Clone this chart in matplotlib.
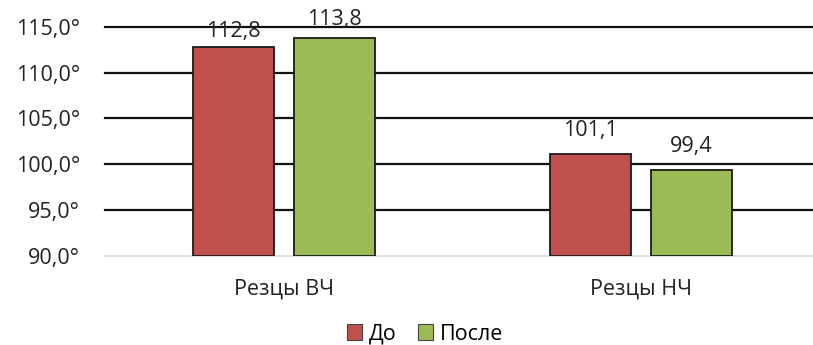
import numpy as np
import matplotlib
matplotlib.use('Agg')
import matplotlib.pyplot as plt
from matplotlib.patches import Patch

plt.rcParams['font.family'] = ['Open Sans', 'DejaVu Sans']

# data
categories = ['Резцы ВЧ', 'Резцы НЧ']
series_names = ['До', 'После']
before = [112.8, 101.1]
after = [113.8, 99.4]
yticks = [90, 95, 100, 105, 110, 115]

red = '#C0504D'
green = '#9BBB59'
fs = 15.5

fig = plt.figure(figsize=(8.13, 3.45), dpi=100)
# axes in pixel terms: left 105, bottom 89, top 26.7
ax = fig.add_axes([105 / 813, 89 / 345, (813 - 105) / 813, (256 - 26.7) / 345])

x = np.arange(len(categories))
w = 0.226
off = 0.141
ax.bar(x - off, np.array(before) - 90, w, bottom=90, color=red,
       edgecolor='#1a1a1a', linewidth=1.3, zorder=3)
ax.bar(x + off, np.array(after) - 90, w, bottom=90, color=green,
       edgecolor='#1a1a1a', linewidth=1.3, zorder=3)

# label gaps above bars (pixels) as they sit in the picture
gaps_before = [5, 13]
gaps_after = [8, 13]
for xi, v, g in zip(x - off, before, gaps_before):
    ax.annotate(f'{v:.1f}'.replace('.', ','), (xi, v), xytext=(0, g * 0.72),
                textcoords='offset points', ha='center', va='bottom',
                fontsize=fs, color='#222222')
for xi, v, g in zip(x + off, after, gaps_after):
    ax.annotate(f'{v:.1f}'.replace('.', ','), (xi, v), xytext=(0, g * 0.72),
                textcoords='offset points', ha='center', va='bottom',
                fontsize=fs, color='#222222', annotation_clip=False)

ax.set_ylim(90, 115)
ax.set_xlim(-0.5, 0.5 + (813 - 462) / 358)
ax.set_yticks(yticks)
ax.set_yticklabels([f'{t:.1f}'.replace('.', ',') + '°' for t in yticks],
                   fontsize=fs, color='#222222')
ax.set_xticks(x)
ax.set_xticklabels(categories, fontsize=fs, color='#222222')
ax.tick_params(axis='both', length=0)
ax.tick_params(axis='y', pad=18)
ax.tick_params(axis='x', pad=16)

for t in yticks[1:]:
    ax.axhline(t, color='#111111', linewidth=1.6, zorder=1, clip_on=False)
for s in ['top', 'right', 'left']:
    ax.spines[s].set_visible(False)
ax.spines['bottom'].set_color('#d9d9d9')
ax.spines['bottom'].set_linewidth(1.2)

handles = [Patch(facecolor=red, edgecolor='#444444', linewidth=0.8),
           Patch(facecolor=green, edgecolor='#444444', linewidth=0.8)]
fig.legend(handles, series_names, loc='center', bbox_to_anchor=(425 / 813, 1 - 334 / 345),
           ncol=2, frameon=False, fontsize=fs, handlelength=0.7, handleheight=0.7,
           handletextpad=0.3, columnspacing=1.0)

fig.savefig('out.png', dpi=100)
